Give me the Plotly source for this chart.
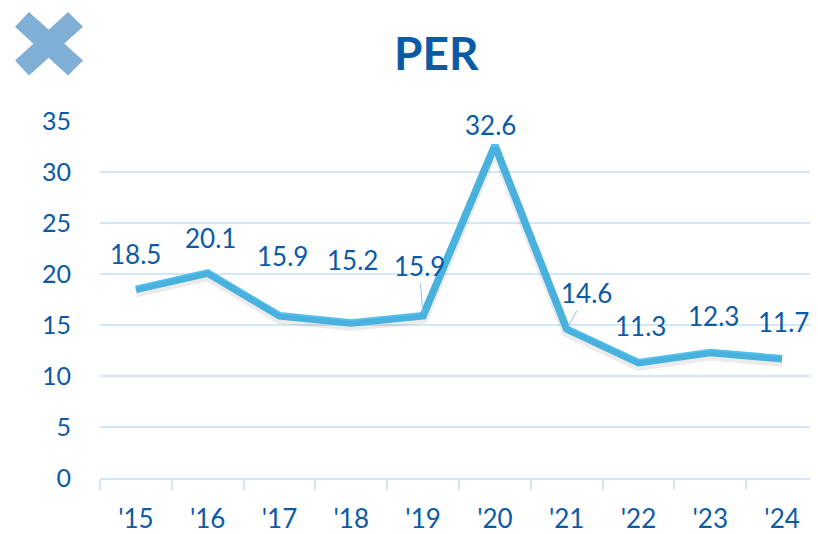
import plotly.graph_objects as go

categories = ["'15", "'16", "'17", "'18", "'19", "'20", "'21", "'22", "'23", "'24"]
per_values = [18.5, 20.1, 15.9, 15.2, 15.9, 32.6, 14.6, 11.3, 12.3, 11.7]
y_ticks = [0, 5, 10, 15, 20, 25, 30, 35]

# label offsets (pixels) relative to each point, and whether a leader line is shown
label_dx = [0, 3, 3, 1, -4, -4, 20, 2, 3, 1]
label_dy = [35, 35, 60, 63, 50, 20, 36, 37, 37, 37]
leader = [False, False, False, False, True, False, True, False, False, False]

TEXT = "#0B5AA6"
LINE = "#50C0F0"
GRID = "#D3E7F8"
FONT = "Lato"

OFF = 8  # page body margin
W, H = 818 - OFF, 534 - OFF
L, R, T, B = 100 - OFF, 0, 121 - OFF, 53
pw, ph = W - L - R, H - T - B


def px(x):
    return (x - OFF - L) / pw


def py(y):
    return (H - B - (y - OFF)) / ph


fig = go.Figure()

# soft shadow under the line
fig.add_trace(go.Scatter(
    x=categories, y=per_values, mode="lines", yaxis="y2",
    line=dict(color="rgba(0,0,0,0.08)", width=10), hoverinfo="skip", showlegend=False))

fig.add_trace(go.Scatter(
    x=categories, y=per_values, mode="lines",
    line=dict(color=LINE, width=7.5), showlegend=False))

annotations = []
for c, v, dx, dy, ld in zip(categories, per_values, label_dx, label_dy, leader):
    if ld:
        annotations.append(dict(
            x=c, y=v, text=f"{v:.1f}", showarrow=True, arrowhead=0,
            arrowwidth=1, arrowcolor="#8CC4F2", ax=dx, ay=-dy, standoff=3,
            font=dict(family=FONT, size=26, color=TEXT)))
    else:
        annotations.append(dict(
            x=c, y=v, text=f"{v:.1f}", showarrow=False, xshift=dx, yshift=dy,
            font=dict(family=FONT, size=26, color=TEXT)))

annotations.append(dict(
    xref="paper", yref="paper", x=px(436), y=py(52), text="<b>PER</b>",
    showarrow=False, xanchor="center", yanchor="middle",
    font=dict(family=FONT, size=46, color=TEXT)))

# cross icon outline
cross = [(15, 26), (29, 11), (48.7, 29.1), (68, 11), (83, 26), (64.3, 42.9),
         (83, 60), (68, 75), (48.7, 57.1), (29, 75), (15, 60), (33.4, 43)]
path = "M " + " L ".join(f"{px(a):.5f},{py(b):.5f}" for a, b in cross) + " Z"
shapes = [dict(type="path", xref="paper", yref="paper", path=path,
               fillcolor="#80AFD6", line=dict(width=0), layer="above")]

fig.update_layout(
    width=W, height=H,
    margin=dict(l=L, r=R, t=T, b=B),
    paper_bgcolor="white", plot_bgcolor="white",
    showlegend=False,
    annotations=annotations,
    shapes=shapes,
    xaxis=dict(
        type="category", categoryorder="array", categoryarray=categories,
        tickson="boundaries", ticks="outside", ticklen=10, tickcolor=GRID,
        tickwidth=1.5, showgrid=False, showline=True, linecolor=GRID, linewidth=1.5,
        tickfont=dict(family=FONT, size=26, color=TEXT), ticklabelstandoff=17,
        range=[-0.5, 9.5], fixedrange=True),
    yaxis=dict(
        range=[0, 35], tickvals=y_ticks, showgrid=True, gridcolor=GRID, gridwidth=1.5,
        zeroline=False, showline=False, ticks="",
        tickfont=dict(family=FONT, size=25, color=TEXT), ticklabelstandoff=28),
    yaxis2=dict(overlaying="y", range=[0.3, 35.3], visible=False),
)

fig.write_html("out.html")
